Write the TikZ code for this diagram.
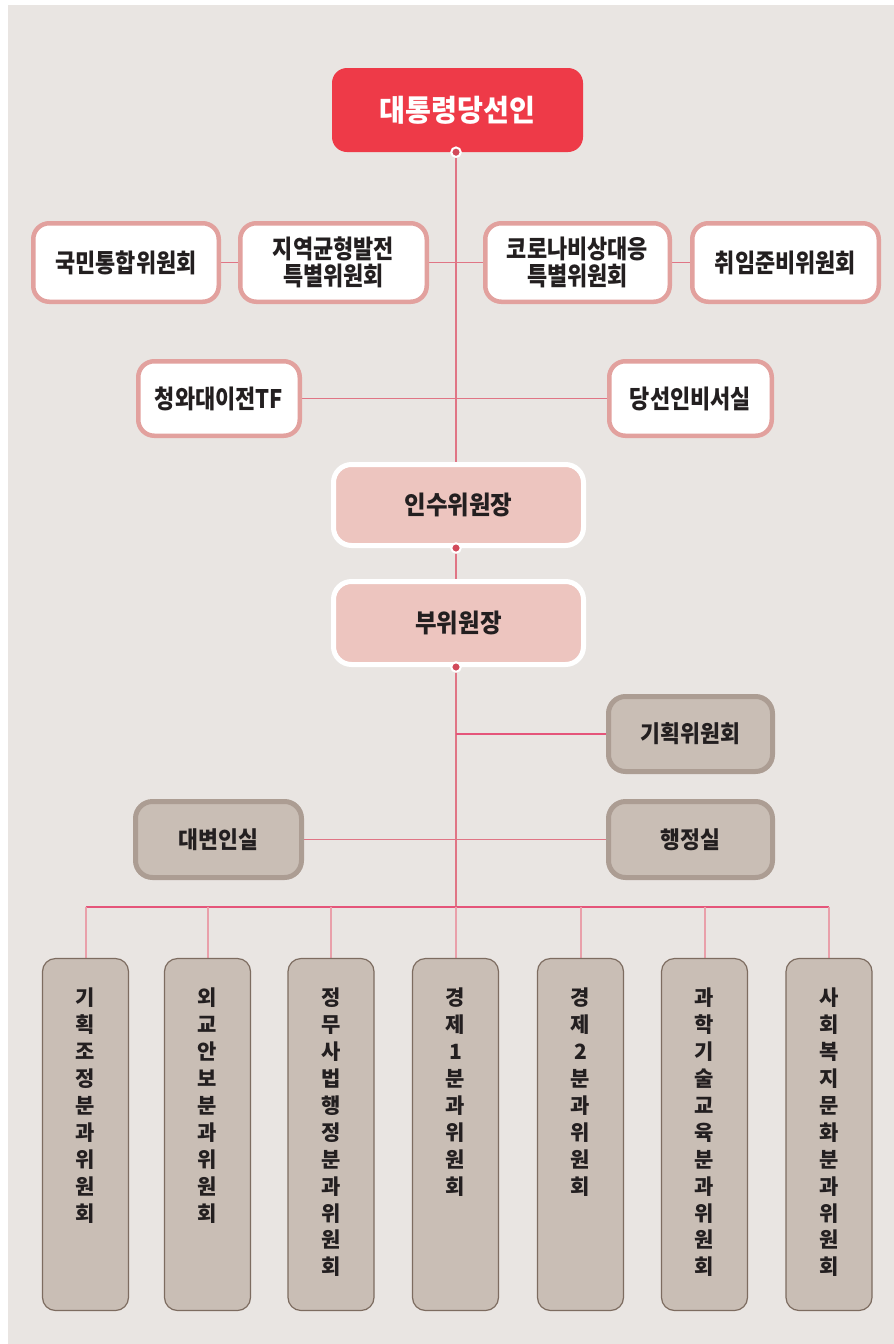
\documentclass[tikz,border=0pt]{standalone}
\usepackage{fontspec}
\newfontfamily\krA{Noto Sans CJK KR}[FakeStretch=0.94]
\newfontfamily\krB{Noto Sans CJK KR}[FakeStretch=0.86]
\newfontfamily\krC{Noto Sans CJK KR}[FakeStretch=0.92]
\newfontfamily\kr{Noto Sans CJK KR}
\definecolor{bgc}{HTML}{E9E5E2}
\definecolor{redc}{HTML}{EE3A48}
\definecolor{pinkb}{HTML}{E2A19E}
\definecolor{pinkf}{HTML}{EDC5BF}
\definecolor{tanf}{HTML}{C9BEB5}
\definecolor{tanb}{HTML}{AC9D93}
\definecolor{botb}{HTML}{7D6C60}
\definecolor{linec}{HTML}{E07585}
\definecolor{busc}{HTML}{E5557A}
\definecolor{dropc}{HTML}{E9A0AA}
\definecolor{dotc}{HTML}{D24A5A}
\definecolor{txt}{HTML}{231F20}
\pgfdeclarelayer{bgl}
\pgfdeclarelayer{lines}
\pgfsetlayers{bgl,lines,main}
\tikzset{
  presbox/.style={fill=redc, draw=none, rounded corners=15pt, inner sep=0pt, text=white,
    font=\krA\bfseries\fontsize{30}{34}\selectfont},
  pinkbox/.style={draw=pinkb, line width=4.5pt, fill=white, rounded corners=16pt, inner sep=0pt,
    text=txt, align=center, font=\krB\bfseries\fontsize{25.5}{27.5}\selectfont},
  headbox/.style={draw=white, line width=5pt, fill=pinkf, rounded corners=18pt, inner sep=0pt,
    text=txt, font=\krC\bfseries\fontsize{25.5}{28}\selectfont},
  tanbox/.style={draw=tanb, line width=5pt, fill=tanf, rounded corners=17pt, inner sep=0pt,
    text=txt, font=\krC\bfseries\fontsize{23.5}{26}\selectfont},
  botbox/.style={draw=botb, line width=1.2pt, fill=tanf, rounded corners=13pt, inner sep=0pt,
    minimum width=86pt, minimum height=352pt},
  vtext/.style={anchor=north, inner sep=0pt, align=center, text=txt,
    font=\kr\bfseries\fontsize{21}{26.9}\selectfont},
  conn/.style={draw=linec, line width=1.3pt},
  busline/.style={draw=busc, line width=1.5pt},
  dropline/.style={draw=dropc, line width=2pt},
  jdot/.style={circle, fill=dotc, draw=white, line width=2pt, inner sep=0pt, minimum size=9.5pt}
}
\begin{document}
\begin{tikzpicture}[x=1pt,y=-1pt]
\useasboundingbox (0,0) rectangle (894,1344);
\begin{pgfonlayer}{bgl}
  \fill[bgc] (8,5) rectangle (894,1344);
\end{pgfonlayer}

% top
\node[presbox, minimum width=251pt, minimum height=84pt] (pres) at (457.5,110) {대통령당선인};

% row 2
\node[pinkbox, minimum width=185.5pt, minimum height=78.5pt] (r2a) at (126,262.5) {국민통합위원회};
\node[pinkbox, minimum width=186.5pt, minimum height=78.5pt] (r2b) at (333.5,262.5) {지역균형발전\\특별위원회};
\node[pinkbox, minimum width=184.5pt, minimum height=78.5pt] (r2c) at (577.5,262.5) {코로나비상대응\\특별위원회};
\node[pinkbox, minimum width=186.5pt, minimum height=78.5pt] (r2d) at (785.5,262.5) {취임준비위원회};

% row 3
\node[pinkbox, minimum width=161.5pt, minimum height=74.5pt] (tf) at (219,398.5) {청와대이전TF};
\node[pinkbox, minimum width=162.5pt, minimum height=74.5pt] (sec) at (690.5,398.5) {당선인비서실};

% chair / vice
\node[headbox, minimum width=250pt, minimum height=81pt] (chair) at (458.5,505) {인수위원장};
\node[headbox, minimum width=250pt, minimum height=83pt] (vice) at (458.5,623) {부위원장};

% staff
\node[tanbox, minimum width=164pt, minimum height=75pt] (plan) at (690.5,734) {기획위원회};
\node[tanbox, minimum width=166pt, minimum height=76pt] (spk) at (218.5,839.5) {대변인실};
\node[tanbox, minimum width=164pt, minimum height=76pt] (adm) at (690.5,839.5) {행정실};

% bottom committees
\node[botbox] (b1) at (85.5,1134.5) {};
\node[botbox] (b2) at (207.5,1134.5) {};
\node[botbox] (b3) at (331,1134.5) {};
\node[botbox] (b4) at (455.5,1134.5) {};
\node[botbox] (b5) at (580.5,1134.5) {};
\node[botbox] (b6) at (704.5,1134.5) {};
\node[botbox] (b7) at (829,1134.5) {};

\node[vtext] (t1) at ([yshift=-30pt]b1.north) {기\\획\\조\\정\\분\\과\\위\\원\\회};
\node[vtext] (t2) at ([yshift=-30pt]b2.north) {외\\교\\안\\보\\분\\과\\위\\원\\회};
\node[vtext] (t3) at ([yshift=-30pt]b3.north) {정\\무\\사\\법\\행\\정\\분\\과\\위\\원\\회};
\node[vtext] (t4) at ([yshift=-30pt]b4.north) {경\\제\\1\\분\\과\\위\\원\\회};
\node[vtext] (t5) at ([yshift=-30pt]b5.north) {경\\제\\2\\분\\과\\위\\원\\회};
\node[vtext] (t6) at ([yshift=-30pt]b6.north) {과\\학\\기\\술\\교\\육\\분\\과\\위\\원\\회};
\node[vtext] (t7) at ([yshift=-30pt]b7.north) {사\\회\\복\\지\\문\\화\\분\\과\\위\\원\\회};

\coordinate (spine) at (456,907);

\begin{pgfonlayer}{lines}
  \draw[conn] (pres.south -| spine) -- (spine);
  \draw[conn] (r2a.east) -- (r2b.west);
  \draw[conn] (r2b.east) -- (r2c.west);
  \draw[conn] (r2c.east) -- (r2d.west);
  \draw[conn] (tf.east) -- (sec.west);
  \draw[busline] (plan.west -| spine) -- (plan.west);
  \draw[conn] (spk.east) -- (adm.west);
  \draw[busline] (b1.north |- spine) -- (b7.north |- spine);
  \foreach \b in {b1,b2,b3,b4,b5,b6,b7} {
    \draw[dropline] (\b.north |- spine) -- (\b.north);
  }
\end{pgfonlayer}

% junction dots
\node[jdot] (d1) at (pres.south -| spine) {};
\node[jdot] (d2) at (chair.south -| spine) {};
\node[jdot] (d3) at (vice.south -| spine) {};
\end{tikzpicture}
\end{document}
